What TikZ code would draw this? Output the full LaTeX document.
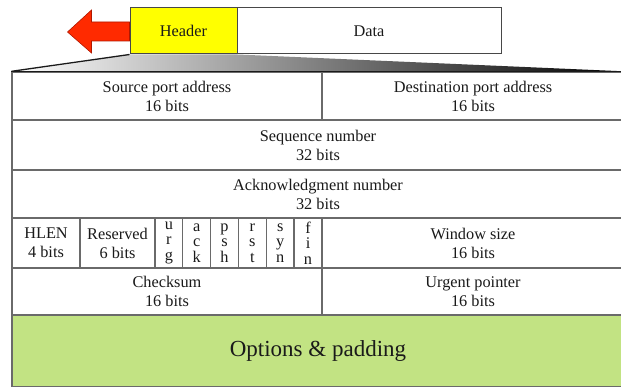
\documentclass[tikz,border=0pt]{standalone}
\usepackage{fontspec}
\setmainfont{Liberation Serif}
\usepackage{tikz}
\usetikzlibrary{calc}
\definecolor{tcpyellow}{HTML}{FFFF00}
\definecolor{tcpred}{HTML}{FF2A00}
\definecolor{tcpdred}{HTML}{B01800}
\definecolor{tcpgreen}{HTML}{C2E383}
\definecolor{tcpline}{HTML}{6A6A6A}
\definecolor{tcpink}{HTML}{1A1A1A}
\tikzset{
  cell/.style={draw=tcpline, line width=1.3pt, fill=white, align=center, inner sep=0pt,
    font=\fontsize{16.3}{19}\selectfont, text=tcpink},
  flag/.style={cell, minimum width=27.83pt, minimum height=50pt, font=\fontsize{16.3}{15.5}\selectfont},
  pkt/.style={draw=tcpink!80, line width=1pt, minimum height=46pt, inner sep=0pt,
    font=\fontsize{16.3}{19}\selectfont, text=tcpink},
  opts/.style={cell, fill=tcpgreen, font=\fontsize{23}{26}\selectfont},
  dirarrow/.style={fill=tcpred, draw=tcpdred, line width=0.6pt, line join=miter},
}
\begin{document}
\begin{tikzpicture}[x=1pt, y=-1pt]
  \useasboundingbox (0,0) rectangle (621,387);
  \node[pkt, fill=tcpyellow, minimum width=107pt] (hdr) at (183.5,31) {Header};
  \node[pkt, fill=white, minimum width=264pt] (dat) at (369,31) {Data};
  \draw[dirarrow] (hdr.west) ++(0,-9) -- ++(-38,0) -- ++(0,-12) -- ++(-24,22)
    -- ++(24,21) -- ++(0,-12) -- ++(38,0) -- cycle;

  \node[cell, minimum width=310pt, minimum height=48pt] (src) at (167,96) {Source port address\\16 bits};
  \node[cell, minimum width=302pt, minimum height=48pt] (dst) at (473,96) {Destination port address\\16 bits};
  \node[cell, minimum width=612pt, minimum height=50pt] (seq) at (318,145) {Sequence number\\32 bits};
  \node[cell, minimum width=612pt, minimum height=48pt] (ack) at (318,194) {Acknowledgment number\\32 bits};
  \node[cell, minimum width=68pt, minimum height=50pt] (hlen) at (46,243) {HLEN\\4 bits};
  \node[cell, minimum width=75pt, minimum height=50pt] (res) at (117.5,243) {Reserved\\6 bits};
  \foreach \l/\n [count=\i from 0] in {u\\r\\g/urg, a\\c\\k/ack, p\\s\\h/psh, r\\s\\t/rst, s\\y\\n/syn, f\\i\\n/fin}
    \node[flag] (\n f) at ({168.9+27.83*\i},243) {\l};
  \node[cell, minimum width=302pt, minimum height=50pt] (win) at (473,243) {Window size\\16 bits};
  \node[cell, minimum width=310pt, minimum height=47pt] (chk) at (167,291.5) {Checksum\\16 bits};
  \node[cell, minimum width=302pt, minimum height=47pt] (urg) at (473,291.5) {Urgent pointer\\16 bits};
  \node[opts, minimum width=612pt, minimum height=72pt] (opt) at (318,351) {Options \& padding};

  \shade[left color=white, right color=black] (src.north west) -- (hdr.south west)
    -- (hdr.south east) -- (dst.north east) -- cycle;
  \draw[tcpink, line width=1.3pt] (src.north west) -- (hdr.south west);
  \draw[tcpink, line width=1.3pt] (src.north west) -- (dst.north east);
\end{tikzpicture}
\end{document}
